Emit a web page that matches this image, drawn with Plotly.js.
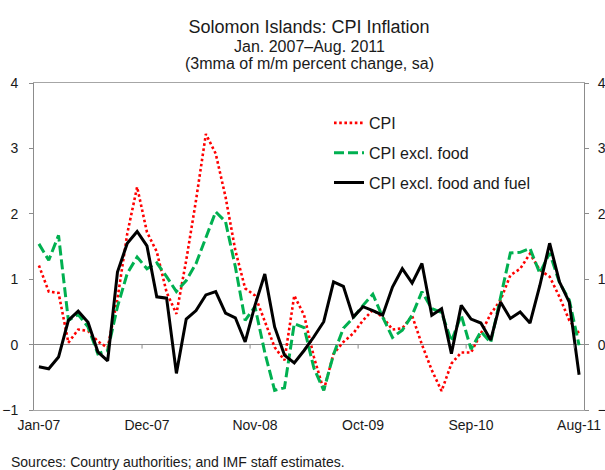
<!DOCTYPE html>
<html>
<head>
<meta charset="utf-8">
<script src="https://cdn.plot.ly/plotly-3.0.1.min.js"></script>
<style>html,body{margin:0;padding:0;background:#fff;}#chart{width:605px;height:470px;}</style>
</head>
<body>
<div id="chart"></div>
<script>
var months = ["Jan-07","Feb-07","Mar-07","Apr-07","May-07","Jun-07","Jul-07","Aug-07","Sep-07","Oct-07","Nov-07","Dec-07",
"Jan-08","Feb-08","Mar-08","Apr-08","May-08","Jun-08","Jul-08","Aug-08","Sep-08","Oct-08","Nov-08","Dec-08",
"Jan-09","Feb-09","Mar-09","Apr-09","May-09","Jun-09","Jul-09","Aug-09","Sep-09","Oct-09","Nov-09","Dec-09",
"Jan-10","Feb-10","Mar-10","Apr-10","May-10","Jun-10","Jul-10","Aug-10","Sep-10","Oct-10","Nov-10","Dec-10",
"Jan-11","Feb-11","Mar-11","Apr-11","May-11","Jun-11","Jul-11","Aug-11"];

var tickLabels = ["Jan-07","Dec-07","Nov-08","Oct-09","Sep-10","Aug-11"];
var yTicks = [-1, 0, 1, 2, 3, 4];
var boundaryTicks = [10.5, 21.5, 32.5, 43.5, 54.5];

var cpi = [1.21,0.81,0.79,0.03,0.23,0.21,0.05,-0.05,0.70,1.70,2.41,1.72,1.42,0.80,0.47,1.29,2.21,3.22,2.92,2.26,1.44,0.86,0.75,0.37,-0.04,-0.24,0.75,0.45,-0.19,-0.70,-0.14,0.04,0.17,0.37,0.53,0.42,0.23,0.25,0.44,0.00,-0.39,-0.71,-0.29,-0.12,-0.12,0.17,0.47,0.68,1.06,1.16,1.39,1.14,1.04,0.73,0.37,0.17];

var cpiExFood = [1.54,1.29,1.67,0.37,0.46,0.27,-0.14,-0.09,0.58,1.09,1.34,1.16,1.25,1.04,0.81,0.98,1.24,1.62,2.03,1.88,1.19,0.37,0.58,-0.12,-0.70,-0.66,0.32,0.26,-0.36,-0.70,-0.15,0.25,0.41,0.60,0.77,0.42,0.11,0.22,0.45,0.81,0.55,0.49,0.05,0.45,-0.07,0.20,0.03,0.72,1.40,1.41,1.47,1.09,1.40,0.95,0.68,-0.01];

var cpiExFoodFuel = [-0.34,-0.37,-0.19,0.37,0.51,0.34,-0.11,-0.25,1.11,1.55,1.73,1.51,0.73,0.71,-0.44,0.39,0.52,0.76,0.81,0.48,0.41,0.04,0.60,1.08,0.27,-0.16,-0.28,-0.09,0.12,0.35,0.96,0.89,0.42,0.58,0.52,0.45,0.88,1.16,0.94,1.24,0.45,0.55,-0.14,0.60,0.39,0.33,0.07,0.65,0.40,0.50,0.33,0.90,1.55,0.96,0.65,-0.46];

var FONT = "Liberation Sans, Arial, sans-serif";

var traces = [
  {x: months, y: cpi, name: "CPI", type: "scatter", mode: "lines", legendgroup: "a",
   line: {color: "#ff0000", width: 2.6, dash: "2.6px,2.6px"}},
  {x: months, y: cpiExFood, name: "CPI excl. food", type: "scatter", mode: "lines", legendgroup: "b",
   line: {color: "#00b050", width: 3, dash: "10px,4px"}},
  {x: months, y: cpiExFoodFuel, name: "CPI excl. food and fuel", type: "scatter", mode: "lines", legendgroup: "c",
   line: {color: "#000000", width: 3}},
  {x: months, y: cpiExFoodFuel, yaxis: "y2", type: "scatter", mode: "lines", showlegend: false,
   hoverinfo: "skip", line: {color: "rgba(0,0,0,0)", width: 0}}
];

var shapes = boundaryTicks.map(function (b) {
  return {type: "line", xref: "x", yref: "y", ysizemode: "pixel", yanchor: 0,
          x0: b, x1: b, y0: 0, y1: -4, line: {color: "#8c8c8c", width: 1}};
});

var layout = {
  width: 605, height: 470,
  margin: {l: 34, r: 21, t: 83, b: 60, pad: 0},
  paper_bgcolor: "#ffffff", plot_bgcolor: "#ffffff",
  font: {family: FONT, color: "#1a1a1a", size: 14},
  title: {text: "Solomon Islands: CPI Inflation", font: {family: FONT, size: 18, color: "#1a1a1a"},
          x: 0.5, xref: "paper", xanchor: "center", y: 1 - 27/470, yref: "container", yanchor: "middle"},
  annotations: [
    {text: "Jan. 2007\u2013Aug. 2011", xref: "paper", yref: "paper", x: 0.5, y: 1 + (83-46.5)/327,
     xanchor: "center", yanchor: "middle", showarrow: false, font: {family: FONT, size: 16, color: "#1a1a1a"}},
    {text: "(3mma of m/m percent change, sa)", xref: "paper", yref: "paper", x: 0.5, y: 1 + (83-63)/327,
     xanchor: "center", yanchor: "middle", showarrow: false, font: {family: FONT, size: 16, color: "#1a1a1a"}},
    {text: "Sources: Country authorities; and IMF staff estimates.", xref: "paper", yref: "paper",
     x: (9-34)/550, y: -(462-410)/327, xanchor: "left", yanchor: "middle", showarrow: false,
     font: {family: FONT, size: 14, color: "#1a1a1a"}}
  ],
  xaxis: {type: "category", range: [-0.5, 55.5], tickmode: "array", tickvals: tickLabels, ticktext: tickLabels,
          showgrid: false, zeroline: false, showline: true, mirror: true, linecolor: "#a6a6a6", linewidth: 1,
          ticks: "", tickfont: {family: FONT, size: 14, color: "#1a1a1a"}, ticklabelstandoff: 2},
  yaxis: {range: [-1, 4], tickvals: yTicks, showgrid: false, zeroline: true, zerolinecolor: "#8c8c8c", zerolinewidth: 1,
          showline: true, linecolor: "#8c8c8c", linewidth: 1, ticks: "outside", ticklen: 4, tickcolor: "#8c8c8c",
          tickfont: {family: FONT, size: 14, color: "#1a1a1a"}, ticklabelstandoff: 8},
  yaxis2: {range: [-1, 4], tickvals: yTicks, overlaying: "y", side: "right", showgrid: false, zeroline: false,
           showline: true, linecolor: "#8c8c8c", linewidth: 1, ticks: "outside", ticklen: 4, tickcolor: "#8c8c8c",
           tickfont: {family: FONT, size: 14, color: "#1a1a1a"}, ticklabelstandoff: 6},
  legend: {x: (329-34)/550, xanchor: "left", y: 1 - (106-83)/327, yanchor: "top", bgcolor: "rgba(0,0,0,0)",
           font: {family: FONT, size: 16, color: "#1a1a1a"}, tracegroupgap: 6, traceorder: "grouped"},
  shapes: shapes,
  showlegend: true
};

Plotly.newPlot("chart", traces, layout, {displayModeBar: false, staticPlot: true});
</script>
</body>
</html>
